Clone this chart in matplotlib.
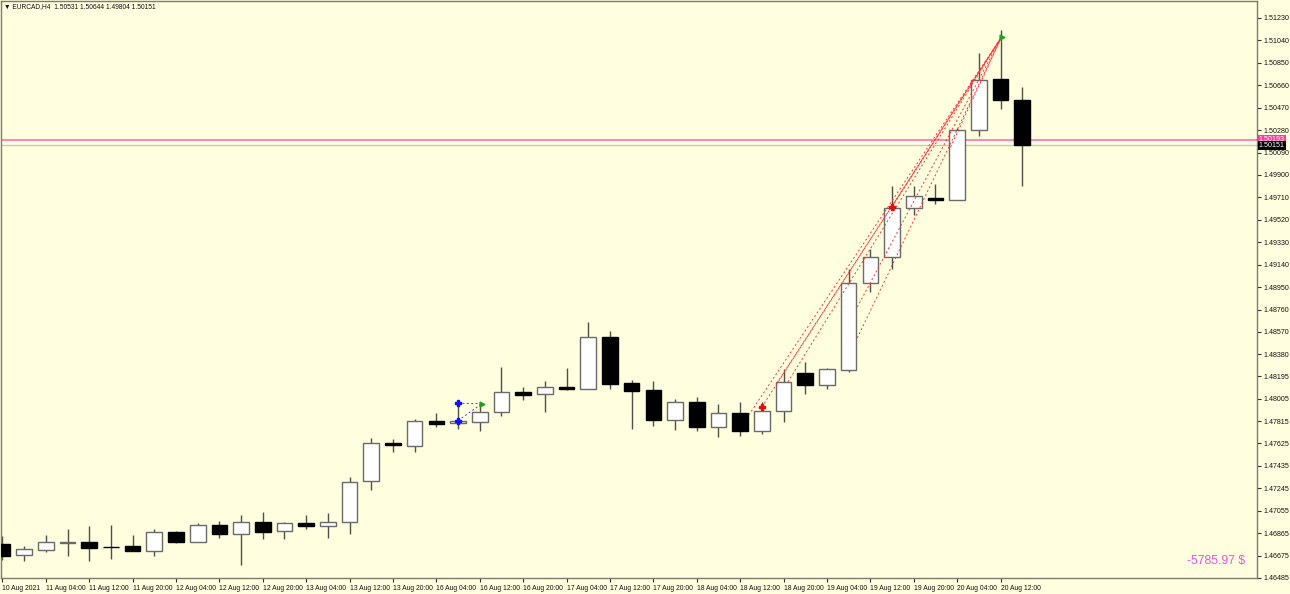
import matplotlib.pyplot as plt
import matplotlib.transforms as mtransforms

# EURCAD H4 candles, 10 Aug 20:00 .. 20 Aug 16:00 (weekend skipped)
opens = [1.46773, 1.46683, 1.46726, 1.46785, 1.46788, 1.46748, 1.46752, 1.46715, 1.46873, 1.46788,
         1.46935, 1.46856, 1.46957, 1.46884, 1.46952, 1.46924, 1.46957, 1.47305, 1.47632, 1.47604,
         1.47813, 1.47799, 1.47807, 1.47895, 1.48059, 1.48042, 1.48106, 1.48090, 1.48525, 1.48135,
         1.48076, 1.47824, 1.47974, 1.47768, 1.47881, 1.47734, 1.47896, 1.48220, 1.48118, 1.48245,
         1.48983, 1.49208, 1.49618, 1.49708, 1.49688, 1.50279, 1.50711, 1.50531]
highs = [1.46841, 1.46759, 1.46850, 1.46901, 1.46929, 1.46937, 1.46847, 1.46903, 1.46886, 1.46954,
         1.46971, 1.47017, 1.47045, 1.46957, 1.47017, 1.47039, 1.47339, 1.47670, 1.47664, 1.47830,
         1.47885, 1.47966, 1.47971, 1.48276, 1.48101, 1.48155, 1.48262, 1.48657, 1.48578, 1.48166,
         1.48155, 1.48000, 1.48017, 1.47957, 1.47977, 1.47979, 1.48255, 1.48318, 1.48262, 1.49101,
         1.49271, 1.49807, 1.49807, 1.49824, 1.50296, 1.50934, 1.51129, 1.50644]
lows = [1.46638, 1.46632, 1.46709, 1.46675, 1.46630, 1.46647, 1.46710, 1.46672, 1.46780, 1.46786,
        1.46825, 1.46596, 1.46819, 1.46819, 1.46903, 1.46825, 1.46861, 1.47229, 1.47556, 1.47551,
        1.47768, 1.47746, 1.47734, 1.47861, 1.47994, 1.47890, 1.48076, 1.48087, 1.48084, 1.47746,
        1.47776, 1.47740, 1.47731, 1.47683, 1.47689, 1.47702, 1.47806, 1.48043, 1.48084, 1.48234,
        1.48911, 1.49101, 1.49561, 1.49652, 1.49684, 1.50228, 1.50459, 1.49804]
closes = [1.46672, 1.46728, 1.46793, 1.46791, 1.46740, 1.46746, 1.46712, 1.46873, 1.46788, 1.46937,
          1.46858, 1.46957, 1.46878, 1.46952, 1.46924, 1.46957, 1.47302, 1.47632, 1.47610, 1.47813,
          1.47793, 1.47812, 1.47895, 1.48059, 1.48036, 1.48106, 1.48090, 1.48525, 1.48129, 1.48072,
          1.47824, 1.47979, 1.47768, 1.47881, 1.47734, 1.47898, 1.48145, 1.48119, 1.48254, 1.48983,
          1.49208, 1.49618, 1.49720, 1.49688, 1.50279, 1.50705, 1.50531, 1.50151]

# time labels, one every second bar
xlabels = ["10 Aug 2021", "11 Aug 04:00", "11 Aug 12:00", "11 Aug 20:00", "12 Aug 04:00",
           "12 Aug 12:00", "12 Aug 20:00", "13 Aug 04:00", "13 Aug 12:00", "13 Aug 20:00",
           "16 Aug 04:00", "16 Aug 12:00", "16 Aug 20:00", "17 Aug 04:00", "17 Aug 12:00",
           "17 Aug 20:00", "18 Aug 04:00", "18 Aug 12:00", "18 Aug 20:00", "19 Aug 04:00",
           "19 Aug 12:00", "19 Aug 20:00", "20 Aug 04:00", "20 Aug 12:00"]

yticks = [1.51230, 1.51040, 1.50850, 1.50660, 1.50470, 1.50280, 1.50090, 1.49900, 1.49710,
          1.49520, 1.49330, 1.49140, 1.48950, 1.48760, 1.48570, 1.48380, 1.48195, 1.48005,
          1.47815, 1.47625, 1.47435, 1.47245, 1.47055, 1.46865, 1.46675, 1.46485]

# closed trades (red dotted) : open bar / price -> close bar / price
trade_open_x = [34.4, 35.0, 35.7, 36.2, 39.4, 39.4, 41.0, 43.7]
trade_open_p = [1.47866, 1.47934, 1.48137, 1.48146, 1.48519, 1.48781, 1.49629, 1.50137]
trade_close_x = 46.05
trade_close_p = 1.51069

# small blue trade near 16 Aug
blue_open_x = [21.0, 21.0]
blue_open_p = [1.47965, 1.47818]
blue_close_x = 22.1
blue_close_p = 1.47963

ask_price = 1.50193
bid_price = 1.50151
profit_text = "-5785.97 $"

bg = '#ffffe0'
frame_col = '#7c7c6c'
small_font = ['Liberation Sans', 'DejaVu Sans']


def main():
    fig = plt.figure(figsize=(12.9, 5.94), dpi=100, facecolor=bg)
    ax = fig.add_axes([1 / 1290, 16 / 594, 1256 / 1290, 577 / 594])
    ax.set_facecolor(bg)

    # candles
    for i in range(len(opens)):
        o, h, l, c = opens[i], highs[i], lows[i], closes[i]
        ax.vlines(i, l, h, color='#505048', lw=1, zorder=2)
        if c >= o:
            ax.bar(i, max(c - o, 0.00003), bottom=o, width=0.72, color='white',
                   edgecolor='#6a6a6a', lw=1, zorder=3)
        else:
            ax.bar(i, max(o - c, 0.00003), bottom=c, width=0.72, color='black',
                   edgecolor='black', lw=1, zorder=3)

    # trade history lines
    for x0, p0 in zip(trade_open_x, trade_open_p):
        ax.plot([x0, trade_close_x], [p0, trade_close_p], color='#ff3030', lw=0.7,
                ls=(0, (2, 2.5)), zorder=4)
    ax.plot([trade_open_x[1], trade_open_x[6]], [trade_open_p[1], trade_open_p[6]], ls='none',
            marker='P', ms=4, color='#e01010', zorder=5)
    ax.plot([trade_close_x], [trade_close_p], ls='none', marker='>', ms=3.5, color='#20a020', zorder=5)

    for x0, p0 in zip(blue_open_x, blue_open_p):
        ax.plot([x0, blue_close_x], [p0, blue_close_p], color='#4040ff', lw=0.7,
                ls=(0, (2, 2.5)), zorder=4)
    ax.plot(blue_open_x, blue_open_p, ls='none', marker='P', ms=4, color='#1010ff', zorder=5)
    ax.plot([blue_close_x], [blue_close_p], ls='none', marker='>', ms=3.5, color='#20a020', zorder=5)

    # ask / bid lines
    ax.axhline(ask_price, color='#ff78bc', lw=1.3, zorder=1)
    ax.axhline(bid_price, color='#c8c8c0', lw=1, zorder=1)

    ax.set_xlim(-0.065, 57.82)
    ax.set_ylim(1.46485, 1.51374)

    # axes styling
    for s in ax.spines.values():
        s.set_color(frame_col)
        s.set_linewidth(1)
    ax.yaxis.tick_right()
    ax.set_yticks(yticks)
    ax.set_yticklabels(["%.5f" % v for v in yticks])
    ax.set_xticks(list(range(0, 2 * len(xlabels), 2)))
    ax.set_xticklabels(xlabels, ha='left')
    ax.tick_params(axis='both', length=3, width=0.8, color='#303030', direction='out',
                   labelcolor='#111111')
    ax.tick_params(axis='x', pad=2, labelsize=4.9)
    ax.tick_params(axis='y', pad=1.5, labelsize=5.1)
    for lab in ax.get_xticklabels() + ax.get_yticklabels():
        lab.set_family(small_font)

    # price tags on the right scale
    trans = mtransforms.blended_transform_factory(ax.transAxes, ax.transData)
    ax.text(1.0015, ask_price + 0.00005, "%.5f" % ask_price, transform=trans, va='center', ha='left',
            fontsize=5.1, family=small_font, color='white', zorder=6, clip_on=False,
            bbox=dict(boxstyle='square,pad=0.15', fc='#ff3aa0', ec='none'))
    ax.text(1.0015, bid_price - 0.00003, "%.5f" % bid_price, transform=trans, va='center', ha='left',
            fontsize=5.1, family=small_font, color='white', zorder=7, clip_on=False,
            bbox=dict(boxstyle='square,pad=0.15', fc='black', ec='none'))

    # header and profit text
    fig.text(4 / 1290, 1 - 7 / 594, "\u25bc EURCAD,H4  %.5f %.5f %.5f %.5f"
             % (opens[-1], highs[-1], lows[-1], closes[-1]),
             fontsize=4.8, family=small_font, va='center', ha='left', color='#111111')
    fig.text(1245 / 1290, 1 - 561 / 594, profit_text, fontsize=8.7,
             family=['Liberation Sans', 'DejaVu Sans'], color='#f050e0', va='center', ha='right')

    fig.savefig('out.png', dpi=100, facecolor=bg)


if __name__ == '__main__':
    main()
